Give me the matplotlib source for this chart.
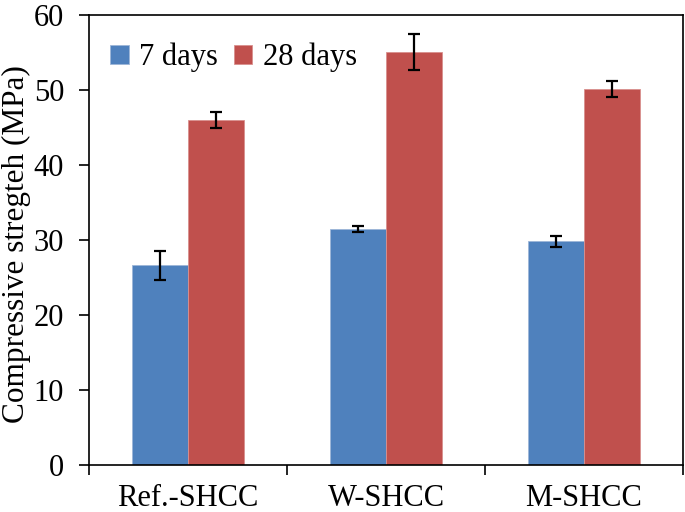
import numpy as np
import matplotlib.pyplot as plt

# compressive strength of the three mixes
groups = ['Ref.-SHCC', 'W-SHCC', 'M-SHCC']
days7 = [26.6, 31.5, 29.8]
days28 = [46.0, 55.0, 50.1]
err7 = [1.9, 0.4, 0.7]
err28 = [1.05, 2.4, 1.05]

plt.rcParams['font.family'] = ['Liberation Serif', 'DejaVu Serif']

fig = plt.figure(figsize=(6.85, 5.12), dpi=100)
ax = fig.add_axes([0.130, 0.092, 0.867, 0.879])

x = np.arange(len(groups))
w = 0.285
ekw = dict(ecolor='black', elinewidth=1.6, capsize=4.5, capthick=1.6)
ax.bar(x - w/2, days7, w, yerr=err7, color='#4F81BD', edgecolor='#9DB6D8',
       linewidth=0.6, label='7 days', error_kw=ekw)
ax.bar(x + w/2, days28, w, yerr=err28, color='#C0504D', edgecolor='#D9908E',
       linewidth=0.6, label='28 days', error_kw=ekw)

ax.set_xlim(-0.5, 2.5)
ax.set_ylim(0, 60)
ax.set_yticks(range(0, 61, 10))
ax.set_xticks([-0.5, 0.5, 1.5, 2.5], minor=False)
ax.set_xticklabels([])
ax.set_xticks(x, minor=True)
ax.set_xticklabels(groups, minor=True, fontsize=22)
ax.tick_params(axis='x', which='minor', length=0, pad=14)
ax.tick_params(axis='x', which='major', direction='out', length=7, width=1.2)
ax.tick_params(axis='y', direction='out', length=7, width=1.2, labelsize=22, pad=11)
for s in ax.spines.values():
    s.set_linewidth(1.2)

ax.set_ylabel('Compressive stregteh (MPa)', fontsize=22.5)
ax.yaxis.set_label_coords(-0.098, 0.49)

ax.legend(loc='upper left', ncol=2, frameon=False, fontsize=22,
          handlelength=0.6, handleheight=0.6, handletextpad=0.35,
          columnspacing=0.5, bbox_to_anchor=(0.0, 0.985), borderaxespad=0.3)

fig.savefig('out.png', dpi=100)
